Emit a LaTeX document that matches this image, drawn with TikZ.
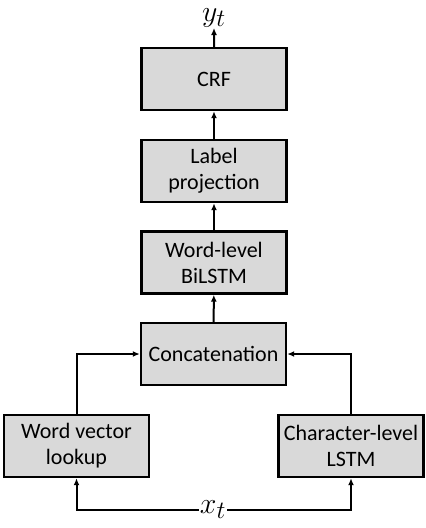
\documentclass[tikz,border=0pt]{standalone}
\usepackage{fontspec}
\setmainfont{Carlito}
\usetikzlibrary{arrows.meta}

\begin{document}
\begin{tikzpicture}[x=1pt, y=-1pt, >={Latex[length=7pt,width=6pt]}]
		\tikzstyle{block}=[draw, line width=2.4pt, fill=black!15, minimum width=145pt, minimum height=62pt, align=center, font=\fontsize{22}{26}\selectfont, inner sep=0pt]
		\tikzstyle{link}=[->, line width=2pt]
		\tikzstyle{var}=[inner sep=1pt, font=\Huge, scale=1.2]
		\useasboundingbox (0,0) rectangle (426,528);
		\node[block](crf) at (214, 79) {CRF};
		\node[block](proj) at (214, 171) {Label\\projection};
		\node[block](bilstm) at (214, 262.5) {Word-level\\BiLSTM};
		\node[block](concat) at (213.5, 354) {Concatenation};
		\node[block](wordvec) at (76.5, 446) {Word vector\\lookup};
		\node[block](charlstm) at (351, 446) {Character-level\\LSTM};
		\node[var](x-t) at (213, 510) {$x_t$};
		\node[var, inner sep=0pt, anchor=south](y-t) at (214, 28) {$y_t$};
		
		\path[link] (concat) edge (bilstm)
		(bilstm) edge (proj)
		(proj) edge (crf)
		(crf) edge (y-t);
		\draw[link] (wordvec.north) |- (concat.west);
		\draw[link] (charlstm.north) |- (concat.east);
		\draw[link] (x-t.west) -| (wordvec.south);
		\draw[link] (x-t.east) -| (charlstm.south);
		\end{tikzpicture}
\end{document}
